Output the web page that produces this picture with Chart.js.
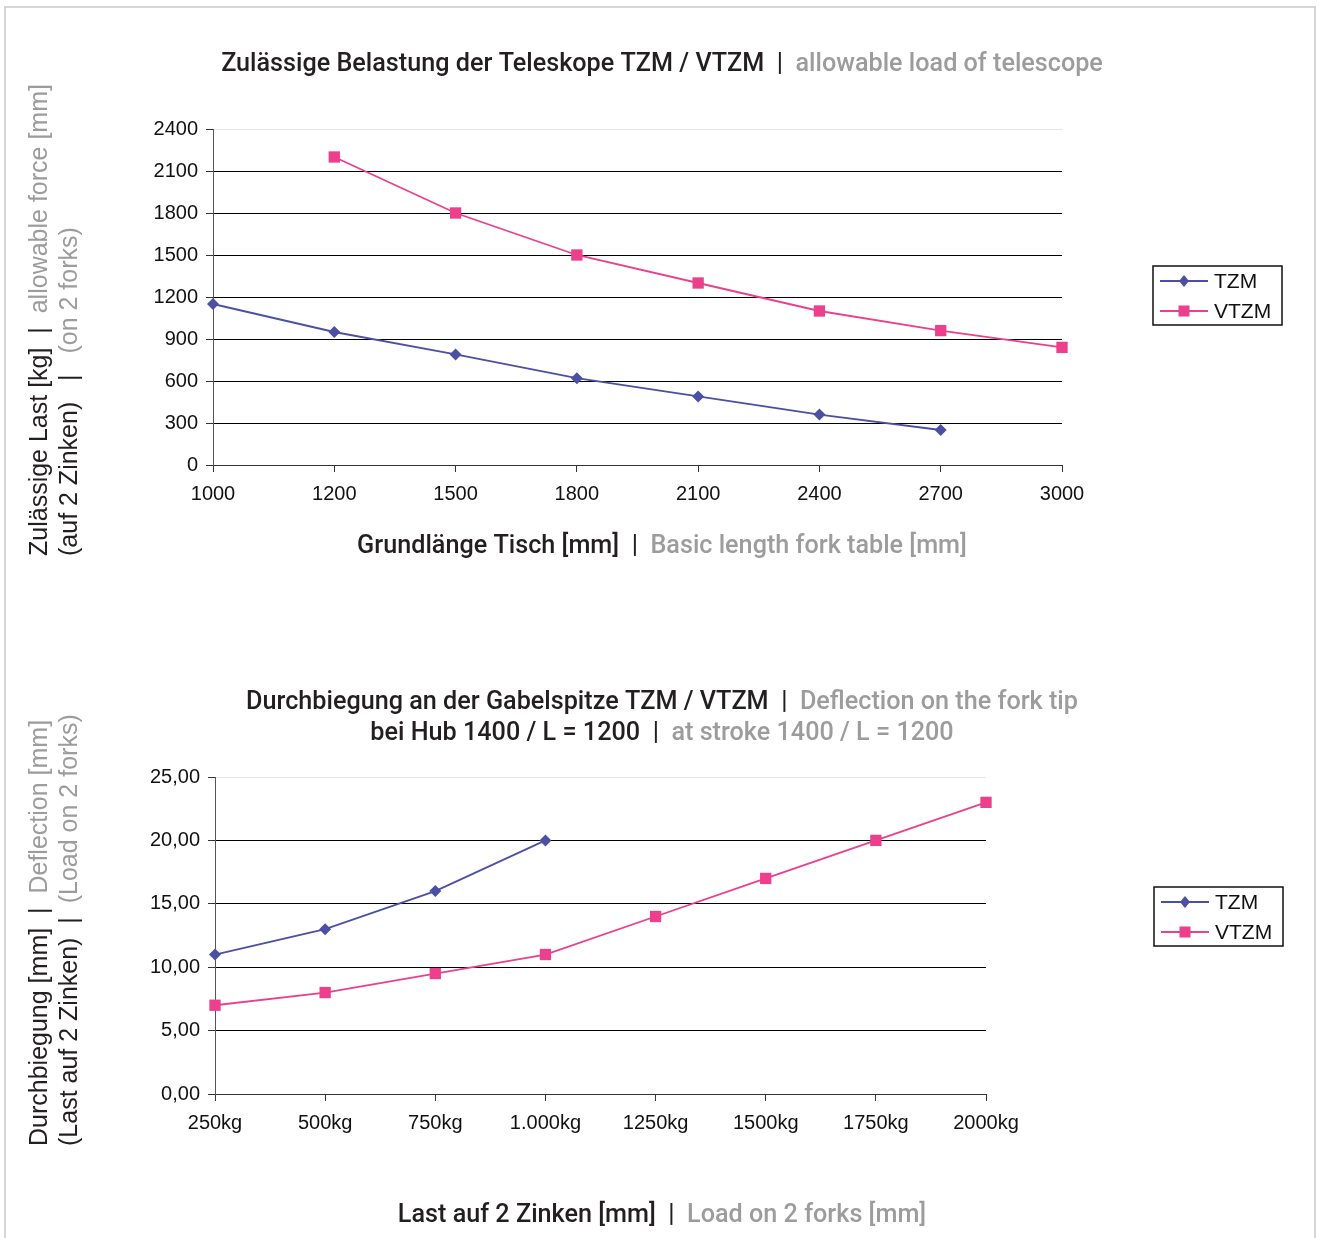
<!DOCTYPE html>
<html>
<head>
<meta charset="utf-8">
<script src="https://cdn.jsdelivr.net/npm/chart.js@4.4.1/dist/chart.umd.min.js"></script>
<style>
    body { margin: 0; background: #fff; }
    #frame { position: absolute; left: 4px; top: 6px; width: 1312px; height: 1240px; border: 2px solid #d6d6d6; border-bottom: none; box-sizing: border-box; }
    .wrap { position: absolute; left: 0; width: 1319px; }
</style>
</head>
<body>
<div id="frame"></div>
<div class="wrap" style="top:0;height:620px"><canvas id="loadChart"></canvas></div>
<div class="wrap" style="top:620px;height:618px"><canvas id="deflChart"></canvas></div>
<script>
// chart 1: allowable load vs. base length
const lengthLabels = ["1000", "1200", "1500", "1800", "2100", "2400", "2700", "3000"];
const loadTZM = [1150, 950, 790, 620, 490, 360, 250, null];
const loadVTZM = [null, 2200, 1800, 1500, 1300, 1100, 960, 840];
const loadTicks = [0, 300, 600, 900, 1200, 1500, 1800, 2100, 2400];

// chart 2: deflection vs. load
const weightLabels = ["250kg", "500kg", "750kg", "1.000kg", "1250kg", "1500kg", "1750kg", "2000kg"];
const deflTZM = [11, 13, 16, 20, null, null, null, null];
const deflVTZM = [7, 8, 9.5, 11, 14, 17, 20, 23];
const deflTicks = [0, 5, 10, 15, 20, 25];

const BLUE = "#4b50a2";
const PINK = "#ec3f8c";
const DARK = "#231f20";
const GREY = "#9c9c9c";
const TITLE_FONT = "500 25.2px Roboto";
const SIDE_FONT = "25px 'Liberation Sans', Arial";
const TICK_FONT = { family: "'Liberation Sans', Arial", size: 20 };

// draws text made of differently coloured parts, optionally rotated
const textPlugin = {
    id: "texts",
    afterDraw(chart, args, opts) {
        const ctx = chart.ctx;
        (opts.items || []).forEach(item => {
            ctx.save();
            ctx.font = item.font;
            ctx.textBaseline = "middle";
            ctx.textAlign = "left";
            ctx.translate(item.x, item.y);
            if (item.rotate) ctx.rotate(-Math.PI / 2);
            const total = item.parts.reduce((w, p) => w + ctx.measureText(p[0]).width, 0);
            let x = item.align === "left" ? 0 : -total / 2;
            item.parts.forEach(p => {
                ctx.fillStyle = p[1];
                ctx.fillText(p[0], x, 0);
                x += ctx.measureText(p[0]).width;
            });
            ctx.restore();
        });
    }
};

// excel-like boxed legend with line + marker
const boxLegend = {
    id: "boxLegend",
    afterDraw(chart, args, opts) {
        const ctx = chart.ctx;
        const { x, y, w, h } = opts;
        ctx.save();
        ctx.fillStyle = "#fff";
        ctx.fillRect(x, y, w, h);
        ctx.strokeStyle = "#111";
        ctx.lineWidth = 1.5;
        ctx.strokeRect(x, y, w, h);
        chart.data.datasets.forEach((ds, i) => {
            const cy = y + 15 + i * 30;
            ctx.strokeStyle = ds.borderColor;
            ctx.lineWidth = 1.8;
            ctx.beginPath();
            ctx.moveTo(x + 7, cy);
            ctx.lineTo(x + 55, cy);
            ctx.stroke();
            ctx.fillStyle = ds.borderColor;
            ctx.beginPath();
            if (ds.pointStyle === "rectRot") {
                ctx.moveTo(x + 31, cy - 6);
                ctx.lineTo(x + 36, cy);
                ctx.lineTo(x + 31, cy + 6);
                ctx.lineTo(x + 26, cy);
                ctx.closePath();
            } else {
                ctx.rect(x + 25.5, cy - 5.5, 11, 11);
            }
            ctx.fill();
            ctx.fillStyle = "#111";
            ctx.font = "21px 'Liberation Sans', Arial";
            ctx.textBaseline = "middle";
            ctx.fillText(ds.label, x + 61, cy + 1);
        });
        ctx.restore();
    }
};

function makeDatasets(tzm, vtzm) {
    return [
        { label: "TZM", data: tzm, borderColor: BLUE, backgroundColor: BLUE, borderWidth: 1.8,
          pointStyle: "rectRot", pointRadius: 6, pointBackgroundColor: BLUE, pointBorderWidth: 0 },
        { label: "VTZM", data: vtzm, borderColor: PINK, backgroundColor: PINK, borderWidth: 1.8,
          pointStyle: "rect", pointRadius: 8, pointBackgroundColor: PINK, pointBorderWidth: 0 }
    ];
}

function makeOptions(cfg) {
    return {
        responsive: true,
        maintainAspectRatio: false,
        animation: false,
        events: [],
        layout: { padding: { left: 0, top: cfg.top, right: cfg.right, bottom: 0 } },
        scales: {
            x: {
                offset: false,
                afterFit: s => { s.height = cfg.xh; },
                grid: { drawOnChartArea: false, drawTicks: true, tickLength: 7, tickColor: "#333" },
                border: { display: true, color: "#333", width: 1 },
                ticks: { color: "#111", font: TICK_FONT, padding: 10, maxRotation: 0, autoSkip: false }
            },
            y: {
                min: 0,
                max: cfg.ticks[cfg.ticks.length - 1],
                afterFit: s => { s.width = cfg.yw; },
                afterBuildTicks: s => { s.ticks = cfg.ticks.map(v => ({ value: v })); },
                grid: {
                    color: c => (c.tick && c.tick.value === cfg.ticks[cfg.ticks.length - 1]) ? "#e6e6e6" : "#000",
                    tickLength: 7, tickColor: "#333", lineWidth: 1
                },
                border: { display: true, color: "#555", width: 1 },
                ticks: { color: "#111", font: TICK_FONT, padding: 8, callback: cfg.fmt }
            }
        },
        plugins: {
            legend: { display: false },
            tooltip: { enabled: false },
            boxLegend: cfg.legend,
            texts: { items: cfg.texts }
        }
    };
}

new Chart(document.getElementById("loadChart"), {
    type: "line",
    data: { labels: lengthLabels, datasets: makeDatasets(loadTZM, loadVTZM) },
    plugins: [textPlugin, boxLegend],
    options: makeOptions({
        top: 129, right: 257, xh: 620 - 465, yw: 213,
        ticks: loadTicks,
        fmt: v => String(v),
        legend: { x: 1153, y: 266, w: 129, h: 59 },
        texts: [
            { x: 662, y: 65, font: TITLE_FONT, parts: [["Zulässige Belastung der Teleskope TZM / VTZM  |  ", DARK], ["allowable load of telescope", GREY]] },
            { x: 662, y: 547, font: TITLE_FONT, parts: [["Grundlänge Tisch [mm]  |  ", DARK], ["Basic length fork table [mm]", GREY]] },
            { x: 40, y: 556, rotate: true, align: "left", font: SIDE_FONT, parts: [["Zulässige Last [kg]  |  ", DARK], ["allowable force [mm]", GREY]] },
            { x: 70, y: 556, rotate: true, align: "left", font: SIDE_FONT, parts: [["(auf 2 Zinken)   |   ", DARK], ["(on 2 forks)", GREY]] }
        ]
    })
});

new Chart(document.getElementById("deflChart"), {
    type: "line",
    data: { labels: weightLabels, datasets: makeDatasets(deflTZM, deflVTZM) },
    plugins: [textPlugin, boxLegend],
    options: makeOptions({
        top: 157, right: 333, xh: 618 - 474, yw: 215,
        ticks: deflTicks,
        fmt: v => v.toFixed(2).replace(".", ","),
        legend: { x: 1154, y: 267, w: 129, h: 59 },
        texts: [
            { x: 662, y: 83, font: TITLE_FONT, parts: [["Durchbiegung an der Gabelspitze TZM / VTZM  |  ", DARK], ["Deflection on the fork tip", GREY]] },
            { x: 662, y: 114, font: TITLE_FONT, parts: [["bei Hub 1400 / L = 1200  |  ", DARK], ["at stroke 1400 / L = 1200", GREY]] },
            { x: 662, y: 596, font: TITLE_FONT, parts: [["Last auf 2 Zinken [mm]  |  ", DARK], ["Load on 2 forks [mm]", GREY]] },
            { x: 40, y: 526, rotate: true, align: "left", font: SIDE_FONT, parts: [["Durchbiegung [mm]  |  ", DARK], ["Deflection [mm]", GREY]] },
            { x: 70, y: 526, rotate: true, align: "left", font: SIDE_FONT, parts: [["(Last auf 2 Zinken)  |  ", DARK], ["(Load on 2 forks)", GREY]] }
        ]
    })
});
</script>
</body>
</html>
